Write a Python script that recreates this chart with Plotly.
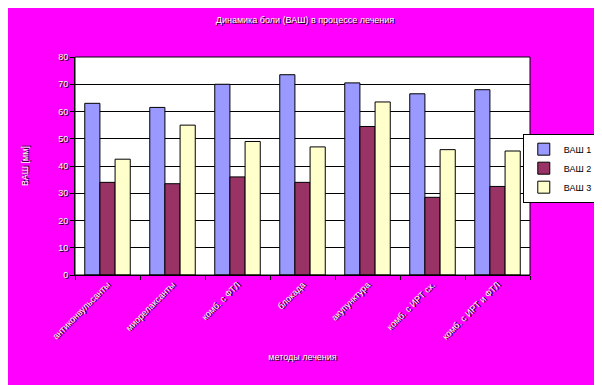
import plotly.graph_objects as go

categories = ["антиконвульсанты", "миорелаксанты", "комб. с ФТЛ", "блокада",
              "акупунктура", "комб. с ИРТ сх.", "комб. с ИРТ и ФТЛ"]
vas1 = [63, 61.5, 70, 73.5, 70.5, 66.5, 68]
vas2 = [34, 33.5, 36, 34, 54.5, 28.5, 32.5]
vas3 = [42.5, 55, 49, 47, 63.5, 46, 45.5]
y_ticks = [0, 10, 20, 30, 40, 50, 60, 70, 80]

series = [("ВАШ 1", vas1, "#9999FF"), ("ВАШ 2", vas2, "#993366"), ("ВАШ 3", vas3, "#FFFFCC")]

fig = go.Figure()
for name, vals, col in series:
    fig.add_trace(go.Bar(x=categories, y=vals, name=name,
                         marker=dict(color=col, line=dict(color="black", width=1))))

wfont = dict(family="Arial, Liberation Sans, sans-serif", size=9, color="white",
             shadow="1px 1px 0px black")

fig.update_layout(
    width=602, height=385,
    paper_bgcolor="#FF00FF", plot_bgcolor="white",
    margin=dict(l=67, r=80, t=49, b=118, autoexpand=False),
    barmode="group", bargap=0.3, bargroupgap=0,
    title=dict(text="Динамика боли (ВАШ) в процессе лечения", x=0.5 - 4/602, xanchor="center",
               y=0.969, yanchor="middle", font=wfont),
    showlegend=True,
    legend=dict(x=1.149, y=0.49, xanchor="right", yanchor="middle",
                bgcolor="white", bordercolor="black", borderwidth=1,
                font=dict(family="Arial, Liberation Sans, sans-serif", size=9, color="black"),
                itemwidth=30, tracegroupgap=0),
    xaxis=dict(showline=True, linecolor="black", linewidth=1, mirror=False,
               ticks="outside", tickson="boundaries", ticklen=4, tickcolor="black",
               tickangle=-45, tickfont=wfont, automargin=False,
               title=dict(text="методы лечения", font=wfont, standoff=13)),
    yaxis=dict(range=[0, 80], tickvals=y_ticks, showline=True, linecolor="black",
               linewidth=1, ticks="outside", ticklen=4, tickcolor="black",
               showgrid=True, gridcolor="black", gridwidth=1, zeroline=False,
               automargin=False,
               tickfont=wfont, title=dict(text="ВАШ [мм]", font=wfont, standoff=28)),
)
fig.add_shape(type="rect", xref="paper", yref="paper", x0=0, y0=0, x1=1, y1=1,
              line=dict(color="black", width=1), layer="above")

fig.write_html("out.html")
